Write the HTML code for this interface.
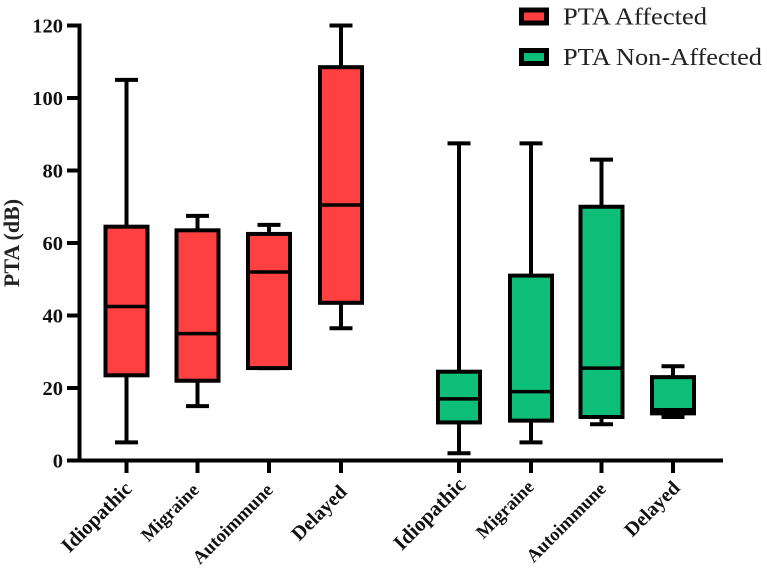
<!DOCTYPE html>
<html>
<head>
<meta charset="utf-8">
<style>
html,body{margin:0;padding:0;background:#fff;}
svg{display:block;font-family:"Liberation Serif",serif;}
</style>
</head>
<body>
<svg id="chart" width="767" height="574" viewBox="0 0 767 574" xmlns="http://www.w3.org/2000/svg"></svg>
<script>
const categories = ["Idiopathic","Migraine","Autoimmune","Delayed","Idiopathic","Migraine","Autoimmune","Delayed"];
const seriesNames = ["PTA Affected","PTA Non-Affected"];
const whiskerHigh = [105,67.5,65,120,87.5,87.5,83,26];
const quartile3 = [64.5,63.5,62.5,108.5,24.5,51,70,23];
const medians = [42.5,35,52,70.5,17,19,25.5,14];
const quartile1 = [23.5,22,25.5,43.5,10.5,11,12,13];
const whiskerLow = [5,15,25.5,36.5,2,5,10,12];
const seriesIndex = [0,0,0,0,1,1,1,1];
const yTicks = [0,20,40,60,80,100,120];

const NS = "http://www.w3.org/2000/svg";
const svg = document.getElementById("chart");
const colors = ["#FF4040","#0CBE78"];
const y0 = 460.5, yTop = 25.5, yMax = 120;
const slots = [126.5,197.5,269,341,459,531,601.5,673];
const labelSizes = [20.5,18.5,18.7,20,21,18.5,18.5,20];
const labelEnds = [[133,490],[200,491],[274,491],[348,493],[467,486],[535,488],[607,490],[681,489]];
const legendWidths = [144,199];
function yScale(v){ return y0 - (v / yMax) * (y0 - yTop); }
function xScale(i){ return slots[i]; }
function make(tag, attrs, parent){
  const el = document.createElementNS(NS, tag);
  for (const k in attrs) el.setAttribute(k, attrs[k]);
  (parent || svg).appendChild(el);
  return el;
}

// Axes
const yAxis = make("line",{x1:79.5,x2:79.5,y1:yScale(yMax)-2,y2:y0+2,stroke:"#000","stroke-width":4});


const xAxis = make("line",{x1:67,x2:723,y1:y0,y2:y0,stroke:"#000","stroke-width":4});



yTicks.forEach(function(t){
  const tick = make("line",{x1:67,x2:80,y1:yScale(t),y2:yScale(t),stroke:"#000","stroke-width":4});
  
  
  const lab = make("text",{x:63,y:yScale(t)+7,"text-anchor":"end","font-size":20.5,"font-weight":"bold",fill:"#111"});
  lab.textContent = t;
  
  
});

const yTitle = make("text",{transform:"translate(19,243) rotate(-90)","text-anchor":"middle","font-size":22,"font-weight":"bold",fill:"#222"});
yTitle.textContent = "PTA (dB)";



// Boxes
categories.forEach(function(c,i){
  const x = xScale(i);
  const g = make("g",{});
  
  
  const hw = 21, cw = 11.5;
  make("line",{x1:x,x2:x,y1:yScale(whiskerHigh[i]),y2:yScale(whiskerLow[i]),stroke:"#000","stroke-width":4},g);
  make("line",{x1:x-cw,x2:x+cw,y1:yScale(whiskerHigh[i]),y2:yScale(whiskerHigh[i]),stroke:"#000","stroke-width":4},g);
  make("line",{x1:x-cw,x2:x+cw,y1:yScale(whiskerLow[i]),y2:yScale(whiskerLow[i]),stroke:"#000","stroke-width":4},g);
  make("rect",{x:x-hw,width:hw*2,y:yScale(quartile3[i]),height:yScale(quartile1[i])-yScale(quartile3[i]),fill:colors[seriesIndex[i]],stroke:"#000","stroke-width":4},g);
  make("line",{x1:x-hw,x2:x+hw,y1:yScale(medians[i]),y2:yScale(medians[i]),stroke:"#000","stroke-width":3.5},g);

  const tick = make("line",{x1:x,x2:x,y1:y0,y2:y0+12.5,stroke:"#000","stroke-width":4});
  
  
  const e = labelEnds[i];
  const lab = make("text",{transform:"translate("+e[0]+","+e[1]+") rotate(-45)","text-anchor":"end","font-size":labelSizes[i],"font-weight":"bold",fill:"#111"});
  lab.textContent = c;
  
  
});

// Legend
seriesNames.forEach(function(n,i){
  const yc = 16.5 + i * 40.5;
  const swatch = make("rect",{x:521.5,y:yc-6.5,width:25,height:13,fill:colors[i],stroke:"#000","stroke-width":5});
  
  
  const lab = make("text",{x:563,y:yc+8,"font-size":24,fill:"#222",textLength:legendWidths[i],lengthAdjust:"spacingAndGlyphs"});
  lab.textContent = n;
  
  
});
</script>
</body>
</html>
